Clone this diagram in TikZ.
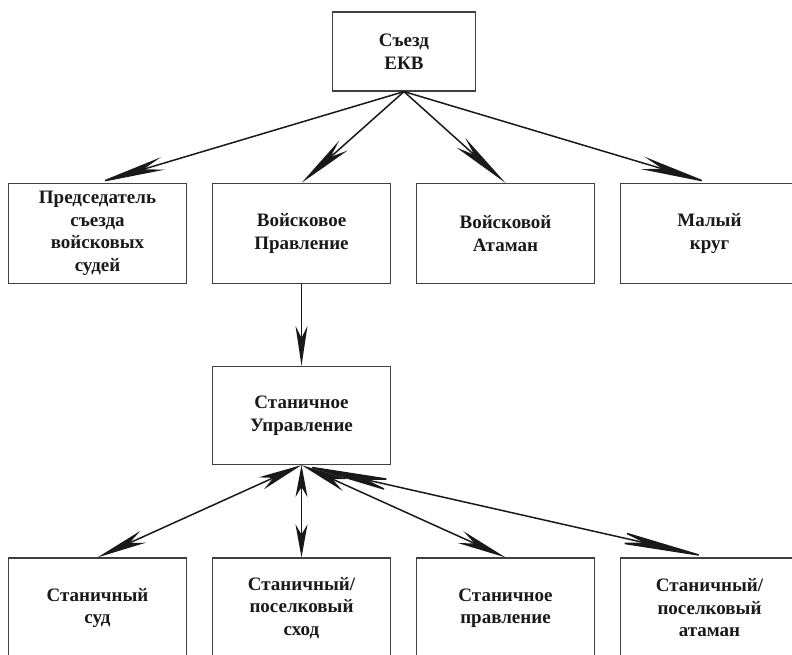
\documentclass[tikz,border=0pt]{standalone}
\usepackage{fontspec}
\setmainfont{Liberation Serif}
\usetikzlibrary{arrows.meta}
\begin{document}
\begin{tikzpicture}[x=1pt,y=-1pt,
  box/.style={draw=black!75,line width=1.2pt,rectangle,minimum width=178pt,minimum height=100pt,
    align=center,inner sep=0pt,font=\fontsize{19}{22.5}\selectfont\bfseries,text=black!90},
  conn/.style={line width=1.5pt,draw=black!90}
]
\useasboundingbox (0,0) rectangle (792,655);
\node[box,minimum width=143pt,minimum height=79pt] (top) at (404,51.5) {Съезд\\ЕКВ};
\node[box] (b1) at (97.5,233.5) {Председатель\\съезда\\войсковых\\судей};
\node[box] (b2) at (301.5,233.5) {Войсковое\\Правление};
\node[box] (b3) at (505.5,233.5) {Войсковой\\Атаман};
\node[box] (b4) at (709.5,233.5) {Малый\\круг};
\node[box,minimum height=98pt] (mid) at (301.5,415.5) {Станичное\\Управление};
\node[box] (c1) at (97.5,608) {Станичный\\суд};
\node[box] (c2) at (301.5,608) {Станичный/\\поселковый\\сход};
\node[box] (c3) at (505.5,608) {Станичное\\правление};
\node[box] (c4) at (709.5,608) {Станичный/\\поселковый\\атаман};
\coordinate (o1) at (top.south);
\draw[conn,-{Stealth[length=68pt,width=13pt,inset=20pt]}] (o1) -- (b1.north);
\draw[conn,-{Stealth[length=56pt,width=13pt,inset=17pt]}] (o1) -- (b2.north);
\draw[conn,-{Stealth[length=60pt,width=13pt,inset=18pt]}] (o1) -- (b3.north);
\draw[conn,-{Stealth[length=70pt,width=13pt,inset=21pt]}] (o1) -- (b4.north);
\draw[conn,-{Stealth[length=40pt,width=12pt,inset=12pt]}] (b2.south) -- (mid.north);
\coordinate (o2) at (mid.south);
\draw[conn,{Stealth[length=44pt,width=13pt,inset=13pt]}-{Stealth[length=50pt,width=13pt,inset=15pt]}] (o2) -- (c1.north);
\draw[conn,{Stealth[length=32pt,width=12pt,inset=10pt]}-{Stealth[length=33pt,width=12pt,inset=10pt]}] (o2) -- (c2.north);
\draw[conn,{Stealth[length=48pt,width=13pt,inset=14pt]}-{Stealth[length=49pt,width=13pt,inset=15pt]}] (o2) -- (c3.north);
\draw[conn,{Stealth[length=95pt,width=13pt,inset=28pt]}-{Stealth[length=95pt,width=13pt,inset=28pt]}] (o2) -- (c4.north);
\end{tikzpicture}
\end{document}
